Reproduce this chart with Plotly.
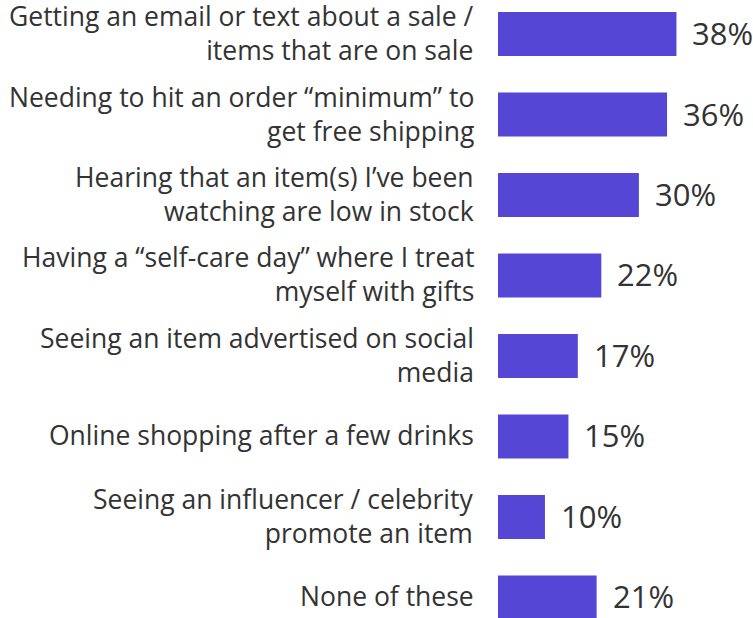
import plotly.graph_objects as go

categories = [
    "Getting an email or text about a sale /<br>items that are on sale",
    "Needing to hit an order \u201cminimum\u201d to<br>get free shipping",
    "Hearing that an item(s) I\u2019ve been<br>watching are low in stock",
    "Having a \u201cself-care day\u201d where I treat<br>myself with gifts",
    "Seeing an item advertised on social<br>media",
    "Online shopping after a few drinks",
    "Seeing an influencer / celebrity<br>promote an item",
    "None of these",
]
values = [38, 36, 30, 22, 17, 15, 10, 21]
value_labels = ["38%", "36%", "30%", "22%", "17%", "15%", "10%", "21%"]

BAR_COLOR = "#5546D5"
TEXT_COLOR = "#333333"
FONT = "Open Sans"

fig = go.Figure(
    go.Bar(
        x=values,
        y=list(range(len(categories))),
        orientation="h",
        marker=dict(color=BAR_COLOR, line=dict(width=0)),
        hoverinfo="skip",
    )
)

annotations = []
# value labels to the right of each bar
for i, (v, lab) in enumerate(zip(values, value_labels)):
    annotations.append(dict(
        x=v, y=i, xref="x", yref="y", text=lab, showarrow=False,
        xanchor="left", yanchor="middle", xshift=14, yshift=1,
        font=dict(family=FONT, size=31, color=TEXT_COLOR),
    ))

# category labels, right aligned beside each bar
for i, cat in enumerate(categories):
    annotations.append(dict(
        x=0, y=i, xref="paper", yref="y", text=cat, showarrow=False,
        xanchor="right", yanchor="middle", align="right", xshift=-23,
        yshift=1, borderpad=0,
        font=dict(family=FONT, size=26.5, color=TEXT_COLOR),
    ))

fig.update_layout(
    width=753, height=618,
    margin=dict(l=498, r=0, t=0, b=0),
    paper_bgcolor="white", plot_bgcolor="white",
    bargap=0.453,
    showlegend=False,
    annotations=annotations,
    xaxis=dict(range=[0, 54.3], visible=False, fixedrange=True),
    yaxis=dict(range=[7.255, -0.4224], visible=False, fixedrange=True),
)
fig.update_traces(cliponaxis=False)

fig.write_html("out.html")
